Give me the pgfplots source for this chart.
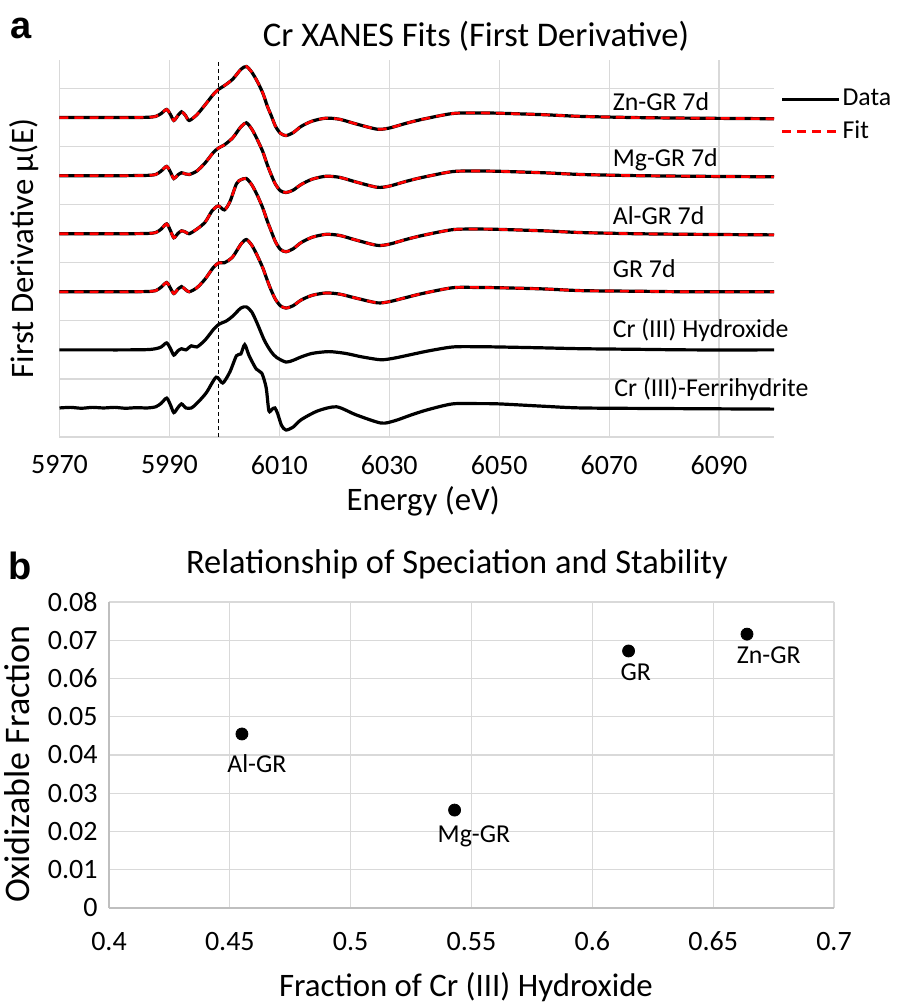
\documentclass[border=0pt]{standalone}
\usepackage{fontspec}
\setmainfont{Carlito}
\newfontfamily\panelfont{Liberation Sans}
\usepackage{pgfplots}
\pgfplotsset{compat=1.18}
\usepackage{pgfplotstable}

% offsets: Zn 5.5, Mg 4.5, Al 3.5, GR 2.5, Hydroxide 1.5, Ferrihydrite 0.5
\pgfplotstableread{
x y
5970 0
5976 0
5982 0
5986 0.005
5987.5 0.02
5988.5 0.07
5989.5 0.14
5990.2 0.05
5990.8 -0.05
5991.5 0.03
5992.2 0.10
5992.9 0.04
5993.6 -0.05
5995 0.05
5996.5 0.22
5998 0.40
5999 0.49
6000 0.55
6001.5 0.66
6003 0.83
6004 0.88
6005 0.78
6006 0.62
6007 0.42
6007.8 0.20
6008.5 0.04
6009.3 -0.15
6010.2 -0.27
6011.2 -0.31
6012.5 -0.26
6014 -0.15
6016 -0.06
6018.5 -0.01
6021 -0.03
6024 -0.11
6027.8 -0.20
6030 -0.18
6033 -0.10
6036 -0.03
6041.5 0.07
6046 0.08
6050 0.075
6058 0.05
6065 0.02
6075 0.0
6085 -0.01
6100 -0.02
}\znGR

\pgfplotstableread{
x y
5970 0
5976 0
5982 0
5986 0.005
5987.5 0.02
5988.5 0.08
5989.5 0.16
5990.2 0.06
5990.8 -0.05
5991.5 0.01
5992.2 0.05
5992.9 0.03
5993.6 0.02
5995 0.08
5996.5 0.22
5998 0.40
5999 0.48
6000 0.53
6001.5 0.65
6003 0.84
6004 0.91
6005 0.80
6006 0.62
6007 0.41
6007.8 0.19
6008.5 0.02
6009.3 -0.15
6010.2 -0.26
6011.2 -0.29
6012.5 -0.25
6014 -0.15
6016 -0.06
6018.5 -0.01
6021 -0.03
6024 -0.11
6027.8 -0.20
6030 -0.18
6033 -0.10
6036 -0.03
6041.5 0.07
6046 0.08
6050 0.075
6058 0.05
6065 0.02
6075 0.0
6085 -0.01
6100 -0.02
}\mgGR

\pgfplotstableread{
x y
5970 0
5976 0
5982 0
5986 0.005
5987.5 0.02
5988.5 0.08
5989.5 0.17
5990.2 0.05
5990.8 -0.07
5991.5 0.0
5992.2 0.05
5992.9 0.03
5993.6 0.0
5995 0.08
5996.5 0.20
5997.8 0.40
5998.9 0.48
6000 0.41
6001 0.55
6002.2 0.86
6003 0.93
6004 0.95
6005 0.84
6006 0.66
6007 0.44
6007.8 0.22
6008.5 0.05
6009.3 -0.14
6010.2 -0.27
6011.2 -0.31
6012.5 -0.26
6014 -0.15
6016 -0.06
6018.5 -0.01
6021 -0.03
6024 -0.11
6027.8 -0.20
6030 -0.18
6033 -0.10
6036 -0.03
6041.5 0.07
6046 0.08
6050 0.075
6058 0.05
6065 0.02
6075 0.0
6085 -0.01
6100 -0.02
}\alGR

\pgfplotstableread{
x y
5970 0
5976 0
5982 0
5986 0.005
5987.5 0.02
5988.5 0.08
5989.5 0.16
5990.2 0.06
5990.8 -0.03
5991.5 0.04
5992.2 0.09
5992.9 0.04
5993.6 0.0
5995 0.07
5996.5 0.22
5998 0.42
5999 0.50
6000 0.50
6001.5 0.60
6003 0.82
6004 0.90
6005 0.80
6006 0.62
6007 0.41
6007.8 0.20
6008.5 0.03
6009.3 -0.13
6010.2 -0.24
6011.2 -0.28
6012.5 -0.24
6014 -0.14
6016 -0.06
6018.5 -0.02
6021 -0.04
6024 -0.11
6027.8 -0.19
6030 -0.17
6033 -0.10
6036 -0.03
6041.5 0.07
6046 0.075
6050 0.07
6058 0.05
6065 0.02
6075 0.01
6085 0.0
6100 0.0
}\gr

\pgfplotstableread{
x y
5970 0
5976 0
5982 0
5986 0.005
5987.5 0.02
5988.5 0.05
5989.5 0.12
5990.2 0.02
5990.8 -0.09
5991.5 -0.02
5992.2 0.02
5993 0.0
5994 0.07
5995 0.05
5996.5 0.17
5998 0.35
5999 0.44
6000.4 0.50
6001.5 0.58
6003 0.72
6004 0.74
6005 0.65
6006 0.45
6007.3 0.16
6008.5 -0.03
6009.5 -0.13
6011.2 -0.21
6012.5 -0.18
6014 -0.12
6016 -0.06
6019 -0.03
6022 -0.06
6025 -0.12
6028.5 -0.17
6031 -0.14
6034 -0.08
6037 -0.02
6041.5 0.05
6046 0.055
6050 0.05
6058 0.035
6065 0.02
6075 0.01
6085 0.0
6100 0.0
}\hydrox

\pgfplotstableread{
x y
5970 0
5972 0.01
5974 -0.005
5976 0.01
5978 0
5980 0.01
5982 -0.005
5984 0.005
5986 0
5987.5 0.02
5988.5 0.08
5989.5 0.17
5990.2 0.05
5990.8 -0.08
5991.5 0.0
5992.2 0.07
5993 0.0
5994 0.0
5995 0.08
5996.7 0.26
5998.5 0.53
5999.7 0.43
6001 0.62
6002.2 0.90
6003 0.93
6003.7 1.09
6004.5 0.90
6005.8 0.67
6006.8 0.60
6007.6 0.35
6008.1 -0.05
6008.7 -0.02
6009.2 0.0
6009.7 -0.10
6010.4 -0.30
6011.2 -0.38
6012.5 -0.33
6014 -0.20
6017 -0.05
6020.4 0.02
6024 -0.12
6028.5 -0.26
6031 -0.22
6034 -0.12
6037 -0.03
6041.5 0.07
6046 0.075
6050 0.07
6058 0.03
6065 0.0
6080 -0.01
6100 -0.02
}\ferri

\pgfplotstableread{
x y label
0.455 0.0455 Al-GR
0.543 0.0256 Mg-GR
0.615 0.0672 GR
0.664 0.0716 Zn-GR
}\scatterdata

\begin{document}
\begin{tikzpicture}
\path[use as bounding box] (0pt,0pt) rectangle (449pt,501.5pt);

\node[font=\panelfont\bfseries\fontsize{19}{19}\selectfont, anchor=base west, inner sep=0pt] at (5pt,482pt) {a};
\node[font=\panelfont\bfseries\fontsize{19}{19}\selectfont, anchor=base west, inner sep=0pt] at (4pt,211.5pt) {b};

\begin{axis}[
  at={(29.75pt,283pt)}, anchor=south west,
  scale only axis, width=357.25pt, height=188.75pt,
  xmin=5970, xmax=6100, ymin=0, ymax=6.5,
  xtick={5970,5990,6010,6030,6050,6070,6090},
  ytick={0,1,2,3,4,5,6}, yticklabels={},
  grid=major, major grid style={draw=black!15, line width=0.6pt},
  axis x line=bottom, axis y line=left,
  axis line style={-, draw=black!15, line width=0.6pt},
  major tick length=0pt,
  scaled ticks=false,
  /pgf/number format/1000 sep={},
  /pgf/number format/assume math mode=true,
  xticklabel style={font=\fontsize{14}{16}\selectfont, inner sep=0pt, anchor=north, yshift=-9pt},
  every axis title shift=0pt,
  title={Cr XANES Fits (First Derivative)},
  title style={at={(0.583,1.0344)}, anchor=base, yshift=0pt, inner sep=0pt, font=\fontsize{17.3}{20}\selectfont},
  xlabel={Energy (eV)},
  xlabel style={at={(0.509,-0.195)}, anchor=base, inner sep=0pt, font=\fontsize{16.4}{19}\selectfont},
  ylabel={First Derivative μ(E)},
  ylabel style={at={(-0.037,0.5)}, anchor=base, inner sep=0pt, font=\fontsize{16.4}{19}\selectfont},
  legend style={at={(1.0084,0.922)}, anchor=north west, draw=none, fill=none, inner sep=0pt,
     font=\fontsize{12.9}{15}\selectfont, row sep=6pt,
     nodes={inner sep=0pt}},
  legend cell align=left,
  legend image code/.code={\draw[#1] (0pt,0pt) -- (28.5pt,0pt); \path (29.5pt,0pt);},
  clip=false,
]
\addplot[black, line width=0.7pt, dash pattern=on 2pt off 1.5pt, forget plot] coordinates {(5998.9,0) (5998.9,6.5)};

\addplot[black, line width=1.6pt, smooth, tension=0.45] table[x=x, y expr=\thisrow{y}+5.5] {\znGR};
\addlegendentry{Data}
\addplot[red, line width=1.3pt, dash pattern=on 4.5pt off 3pt, smooth, tension=0.45] table[x=x, y expr=\thisrow{y}+5.5] {\znGR};
\addlegendentry{Fit}

\addplot[black, line width=1.6pt, smooth, tension=0.45, forget plot] table[x=x, y expr=\thisrow{y}+4.5] {\mgGR};
\addplot[red, line width=1.3pt, dash pattern=on 4.5pt off 3pt, smooth, tension=0.45, forget plot] table[x=x, y expr=\thisrow{y}+4.5] {\mgGR};

\addplot[black, line width=1.6pt, smooth, tension=0.45, forget plot] table[x=x, y expr=\thisrow{y}+3.5] {\alGR};
\addplot[red, line width=1.3pt, dash pattern=on 4.5pt off 3pt, smooth, tension=0.45, forget plot] table[x=x, y expr=\thisrow{y}+3.5] {\alGR};

\addplot[black, line width=1.6pt, smooth, tension=0.45, forget plot] table[x=x, y expr=\thisrow{y}+2.5] {\gr};
\addplot[red, line width=1.3pt, dash pattern=on 4.5pt off 3pt, smooth, tension=0.45, forget plot] table[x=x, y expr=\thisrow{y}+2.5] {\gr};

\addplot[black, line width=1.6pt, smooth, tension=0.45, forget plot] table[x=x, y expr=\thisrow{y}+1.5] {\hydrox};
\addplot[black, line width=1.6pt, smooth, tension=0.45, forget plot] table[x=x, y expr=\thisrow{y}+0.5] {\ferri};

\begin{scope}[every node/.style={anchor=base west, inner sep=0pt, font=\fontsize{12.9}{15}\selectfont}]
\node at (axis cs:6070.6,5.626) {Zn-GR 7d};
\node at (axis cs:6070.6,4.66) {Mg-GR 7d};
\node at (axis cs:6070.6,3.655) {Al-GR 7d};
\node at (axis cs:6070.6,2.74) {GR 7d};
\node at (axis cs:6070.6,1.72) {Cr (III) Hydroxide};
\node at (axis cs:6070.9,0.695) {Cr (III)-Ferrihydrite};
\end{scope}
\end{axis}

\begin{axis}[
  at={(54.5pt,47.5pt)}, anchor=south west,
  scale only axis, width=362.5pt, height=153pt,
  xmin=0.4, xmax=0.7, ymin=0, ymax=0.08,
  xtick={0.4,0.45,0.5,0.55,0.6,0.65,0.7},
  ytick={0,0.01,0.02,0.03,0.04,0.05,0.06,0.07,0.08},
  grid=major, major grid style={draw=black!15, line width=0.6pt},
  axis x line=bottom, axis y line=left,
  axis line style={-, draw=black!25, line width=0.6pt},
  major tick length=0pt,
  scaled ticks=false,
  /pgf/number format/fixed, /pgf/number format/precision=2,
  /pgf/number format/assume math mode=true,
  xticklabel style={font=\fontsize{14}{16}\selectfont, inner sep=0pt, anchor=north, yshift=-11.8pt},
  yticklabel style={font=\fontsize{14}{16}\selectfont, inner sep=0pt, anchor=east, xshift=-5.5pt},
  every axis title shift=0pt,
  title={Relationship of Speciation and Stability},
  title style={at={(0.48,1.0938)}, anchor=base, yshift=0pt, inner sep=0pt, font=\fontsize{17.2}{20}\selectfont},
  xlabel={Fraction of Cr (III) Hydroxide},
  xlabel style={at={(0.4924,-0.29)}, anchor=base, inner sep=0pt, font=\fontsize{16.4}{19}\selectfont},
  ylabel={Oxidizable Fraction},
  ylabel style={at={(-0.110,0.47)}, anchor=base, inner sep=0pt, font=\fontsize{18}{21}\selectfont},
  clip=false,
]
\addplot[only marks, mark=*, mark size=3pt, black] table[x=x, y=y] {\scatterdata};
\begin{scope}[every node/.style={anchor=base, inner sep=0pt, font=\fontsize{12.9}{15}\selectfont}]
\node at (axis cs:0.4612,0.0353) {Al-GR};
\node at (axis cs:0.5510,0.0172) {Mg-GR};
\node at (axis cs:0.6180,0.0594) {GR};
\node at (axis cs:0.6730,0.0640) {Zn-GR};
\end{scope}
\end{axis}
\end{tikzpicture}
\end{document}
